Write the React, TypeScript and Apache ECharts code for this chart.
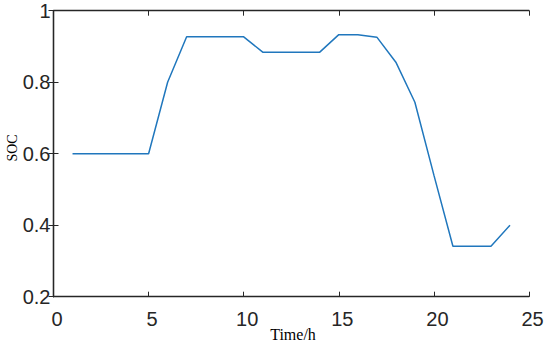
import React, { useEffect, useRef } from "react";
import * as echarts from "echarts";

const hours = [1, 2, 3, 4, 5, 6, 7, 8, 9, 10, 11, 12, 13, 14, 15, 16, 17, 18, 19, 20, 21, 22, 23, 24];
const soc = [0.6, 0.6, 0.6, 0.6, 0.6, 0.8, 0.927, 0.927, 0.927, 0.927, 0.884, 0.884, 0.884, 0.884, 0.933, 0.933, 0.926, 0.856, 0.744, 0.54, 0.341, 0.341, 0.341, 0.4];
const xLabel = "Time/h";
const yLabel = "SOC";

export default function App() {
  const ref = useRef<HTMLDivElement>(null);
  useEffect(() => {
    if (!ref.current) return;
    const chart = echarts.init(ref.current, undefined, { renderer: "svg" });
    const axisColor = "#262626";
    const tickFont = { fontFamily: "Liberation Sans, Arial, sans-serif", fontSize: 20, color: "#262626" };
    const lineW = 1.3;
    chart.setOption({
      animation: false,
      backgroundColor: "#ffffff",
      grid: { left: 53.5, right: 21, top: 10.7, bottom: 50.3, containLabel: false },
      xAxis: [
        {
          type: "value", min: 0, max: 25, interval: 5, position: "bottom",
          axisLine: { show: true, lineStyle: { color: axisColor, width: lineW } },
          axisTick: { show: true, inside: true, length: 5, lineStyle: { color: axisColor } },
          axisLabel: { ...tickFont, margin: 12, padding: [0, 0, 0, 7] },
          splitLine: { show: false },
        },
        {
          type: "value", min: 0, max: 25, interval: 5, position: "top",
          axisLine: { show: true, lineStyle: { color: axisColor, width: lineW } },
          axisTick: { show: true, inside: true, length: 5, lineStyle: { color: axisColor } },
          axisLabel: { show: false },
          splitLine: { show: false },
        },
      ],
      yAxis: [
        {
          type: "value", min: 0.2, max: 1, interval: 0.2, position: "left",
          axisLine: { show: true, lineStyle: { color: axisColor, width: lineW } },
          axisTick: { show: true, inside: true, length: 5, lineStyle: { color: axisColor } },
          axisLabel: { ...tickFont, margin: 3, padding: [6, 0, 0, 0], formatter: (v: number) => String(Math.round(v * 10) / 10) },
          splitLine: { show: false },
        },
        {
          type: "value", min: 0.2, max: 1, interval: 0.2, position: "right",
          axisLine: { show: true, lineStyle: { color: axisColor, width: lineW } },
          axisTick: { show: true, inside: true, length: 5, lineStyle: { color: axisColor } },
          axisLabel: { show: false },
          splitLine: { show: false },
        },
      ],
      graphic: [
        {
          type: "text", x: 293, y: 334,
          style: { text: xLabel, font: "16px 'Liberation Serif', 'Times New Roman', serif", fill: "#000", align: "center", verticalAlign: "middle" },
        },
        {
          type: "text", x: 12, y: 148, rotation: Math.PI / 2,
          style: { text: yLabel, font: "14px 'Liberation Serif', 'Times New Roman', serif", fill: "#000", align: "center", verticalAlign: "middle" },
        },
      ],
      series: [
        {
          type: "line",
          data: hours.map((h, i) => [h, soc[i]]),
          showSymbol: false,
          lineStyle: { color: "#2077bd", width: 1.5 },
          xAxisIndex: 0,
          yAxisIndex: 0,
        },
      ],
    });
    return () => chart.dispose();
  }, []);
  return <div ref={ref} style={{ width: 550, height: 347, position: "absolute", left: 0, top: 0 }} />;
}
